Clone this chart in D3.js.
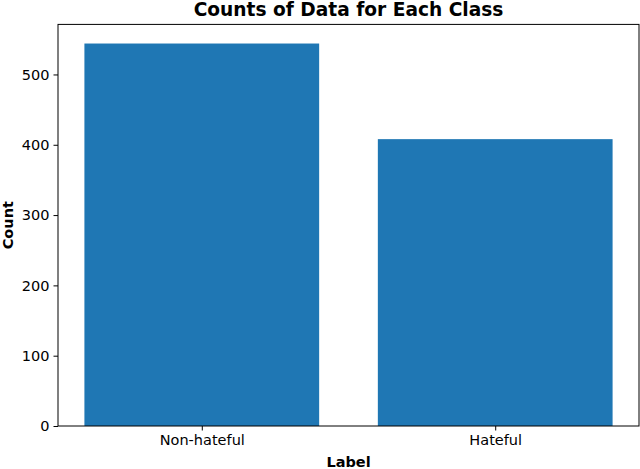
<!DOCTYPE html>
<html><head><meta charset="utf-8">
<script src="https://cdn.jsdelivr.net/npm/d3@7"></script>
<style>body{margin:0;background:#fff}svg{display:block}text{font-family:"DejaVu Sans",sans-serif}</style>
</head><body>
<script>
const categories = ["Non-hateful", "Hateful"];
const counts = [544, 408];
const yTicks = [0, 100, 200, 300, 400, 500];

const W = 640, H = 469;
const m = {left: 58, right: 1, top: 24.4, bottom: 43};
const svg = d3.select("body").append("svg").attr("width", W).attr("height", H);

const x = d3.scaleLinear().domain([-0.49, 1.49]).range([m.left, W - m.right]);
const y = d3.scaleLinear().domain([0, d3.max(counts) * 1.05]).range([H - m.bottom, m.top]);
const bw = 0.8;

svg.append("g").selectAll("rect").data(counts).join("rect")
  .attr("x", (d, i) => x(i - bw / 2))
  .attr("width", (d, i) => x(i + bw / 2) - x(i - bw / 2))
  .attr("y", d => y(d))
  .attr("height", d => y(0) - y(d))
  .attr("fill", "#1f77b4");

const yAxis = svg.append("g").attr("transform", `translate(${m.left},0)`)
  .call(d3.axisLeft(y).tickValues(yTicks).tickSize(4.5).tickPadding(4).tickSizeOuter(0));
const xAxis = svg.append("g").attr("transform", `translate(0,${y(0)})`)
  .call(d3.axisBottom(x).tickValues([0, 1]).tickFormat(i => categories[i]).tickSize(4.5).tickPadding(4).tickSizeOuter(0));
[yAxis, xAxis].forEach(g => {
  g.selectAll("text").attr("font-family", "DejaVu Sans").attr("font-size", 14.5).attr("fill", "#000");
  g.selectAll("line").attr("stroke", "#000");
  g.select(".domain").remove();
});

// frame
svg.append("rect").attr("x", m.left).attr("y", y.range()[1])
  .attr("width", W - m.right - m.left).attr("height", y(0) - y.range()[1])
  .attr("fill", "none").attr("stroke", "#000").attr("stroke-width", 1);

svg.append("text").attr("x", (m.left + W - m.right) / 2).attr("y", 15.5)
  .attr("text-anchor", "middle").attr("font-weight", "bold").attr("font-size", 18.6)
  .text("Counts of Data for Each Class");
svg.append("text").attr("x", (m.left + W - m.right) / 2).attr("y", 467)
  .attr("text-anchor", "middle").attr("font-weight", "bold").attr("font-size", 14.5)
  .text("Label");
svg.append("text").attr("transform", `translate(13,${(y(0) + y.range()[1]) / 2}) rotate(-90)`)
  .attr("text-anchor", "middle").attr("font-weight", "bold").attr("font-size", 14.5)
  .text("Count");
</script>
</body></html>
